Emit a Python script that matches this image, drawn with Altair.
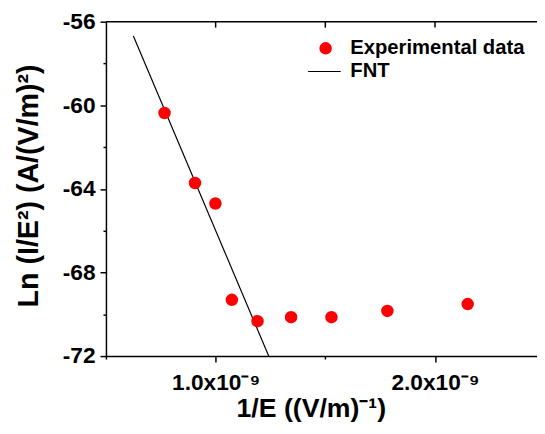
import altair as alt
import pandas as pd

# Experimental data (1/E in units of 1e-9 (V/m)^-1, Ln(I/E^2))
x_exp = [0.767, 0.906, 0.999, 1.074, 1.191, 1.344, 1.528, 1.783, 2.149]
y_exp = [-60.37, -63.72, -64.70, -69.31, -70.33, -70.14, -70.14, -69.84, -69.51]

# FNT fit line end points
x_fnt = [0.625, 1.242]
y_fnt = [-56.68, -72.0]

x_ticks = [0.5, 1.0, 1.5, 2.0]
x_top_ticks = [1.0, 1.5, 2.0]
y_ticks = [-72, -70, -68, -66, -64, -62, -60, -58, -56]
legend_labels = ["Experimental data", "FNT"]

W, H = 437, 339
FONT = "Liberation Sans"

df_exp = pd.DataFrame({"x": x_exp, "y": y_exp})
df_fnt = pd.DataFrame({"x": x_fnt, "y": y_fnt})
df_top = pd.DataFrame({"x": x_top_ticks})

xscale = alt.Scale(domain=[0.5, 2.465], nice=False, zero=False)
yscale = alt.Scale(domain=[-72, -56], nice=False, zero=False)

x_axis = alt.Axis(
    values=x_ticks,
    title="1/E ((V/m)\u207b\u00b9)",
    labelExpr="abs(datum.value - round(datum.value)) < 0.01 ? format(datum.value, '.1f') + 'x10\u207b\u2079' : ''",
    tickSize={"condition": {"test": "abs(datum.value - round(datum.value)) < 0.01", "value": 6}, "value": 3},
    labelPadding=10,
    labelOverlap=False,
    labelFlush=False,
    labelFontSize=23,
    titleFontSize=27,
    titleX=207.7,
    titleY=61,
    titleBaseline="alphabetic",
    titleAlign="center",
)

y_axis = alt.Axis(
    values=y_ticks,
    title="Ln (I/E\u00b2) (A/(V/m)\u00b2)",
    labelExpr="abs(datum.value) % 4 == 0 ? '' + datum.value : ''",
    tickSize={"condition": {"test": "abs(datum.value) % 4 == 0", "value": 6}, "value": 3},
    labelPadding=5,
    labelOverlap=False,
    labelFlush=False,
    labelFontSize=23,
    labelBaseline="middle",
    titleFontSize=29,
    titleAngle=270,
    titleX=-78,
    titleY=166,
    titleBaseline="middle",
    titleAlign="center",
)

points = alt.Chart(df_exp).mark_circle(color="#ff0000", opacity=1, size=160).encode(
    x=alt.X("x:Q", scale=xscale, axis=x_axis),
    y=alt.Y("y:Q", scale=yscale, axis=y_axis),
)

line = alt.Chart(df_fnt).mark_line(color="black", strokeWidth=1.2).encode(
    x=alt.X("x:Q", scale=xscale),
    y=alt.Y("y:Q", scale=yscale),
)

top_border = alt.Chart(pd.DataFrame({"a": [0]})).mark_rule(color="black", strokeWidth=1.5).encode(
    x=alt.value(0), x2=alt.value(W), y=alt.value(0)
)

top_ticks = alt.Chart(df_top).mark_rule(color="black", strokeWidth=1.5).encode(
    x=alt.X("x:Q", scale=xscale),
    y=alt.value(0),
    y2=alt.value(6),
)

leg_pt = alt.Chart(pd.DataFrame({"label": [legend_labels[0]]})).mark_circle(
    color="#ff0000", opacity=1, size=160
).encode(x=alt.value(222.7), y=alt.value(27))

leg_line = alt.Chart(pd.DataFrame({"label": [legend_labels[1]]})).mark_rule(
    color="black", strokeWidth=1.2
).encode(x=alt.value(205), x2=alt.value(238), y=alt.value(50.5))

leg_text1 = alt.Chart(pd.DataFrame({"label": [legend_labels[0]]})).mark_text(
    align="left", baseline="middle", font=FONT, fontSize=20.5, fontWeight="bold", color="black"
).encode(x=alt.value(247.7), y=alt.value(27), text="label:N")

leg_text2 = alt.Chart(pd.DataFrame({"label": [legend_labels[1]]})).mark_text(
    align="left", baseline="middle", font=FONT, fontSize=20.5, fontWeight="bold", color="black"
).encode(x=alt.value(247.7), y=alt.value(50.5), text="label:N")

chart = alt.layer(
    line, points, top_border, top_ticks, leg_pt, leg_line, leg_text1, leg_text2
).properties(
    width=W,
    height=H,
    autosize=alt.AutoSizeParams(type="none"),
    padding={"left": 99.3, "top": 11, "right": 0, "bottom": 68},
).configure_view(
    stroke=None
).configure_axis(
    grid=False,
    domainColor="black",
    domainWidth=1.5,
    tickColor="black",
    tickWidth=1.5,
    labelColor="black",
    titleColor="black",
    labelFont=FONT,
    titleFont=FONT,
    labelFontWeight="bold",
    titleFontWeight="bold",
)

chart.save("out.html", embed_options={"renderer": "svg", "actions": False})
